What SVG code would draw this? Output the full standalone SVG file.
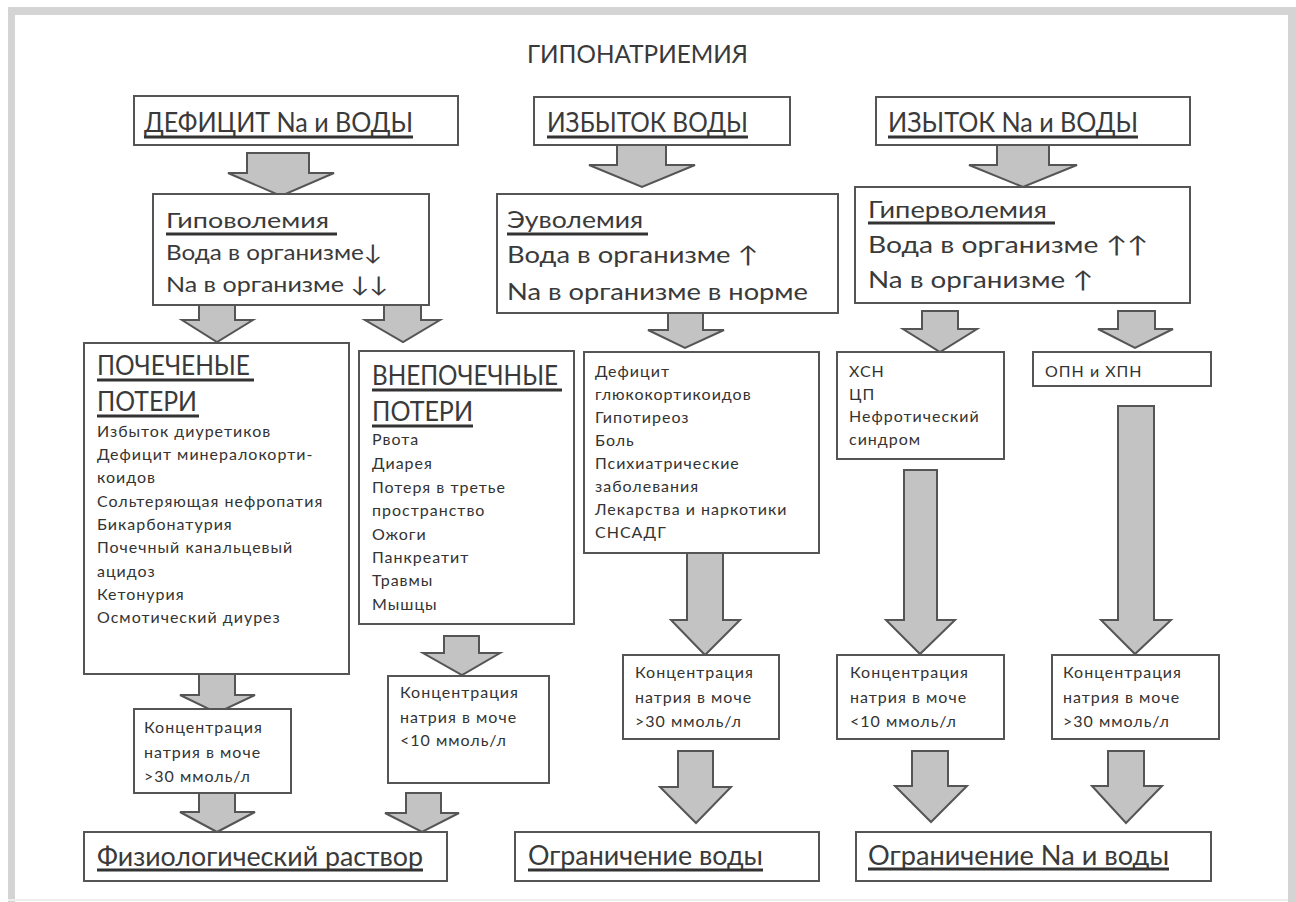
<svg xmlns="http://www.w3.org/2000/svg" width="1296" height="902" viewBox="0 0 1296 902">
<style>
.box{fill:#fff;stroke:#555;stroke-width:2}
.arr{fill:#c3c3c3;stroke:#555;stroke-width:2;stroke-linejoin:miter}
.t{font-family:Lato,"Open Sans",sans-serif;fill:#3a3a3a}
.h1{font-size:26px}
.h2{font-size:21.5px}
.h3{font-size:23px}
.s{font-size:16px;letter-spacing:1px;fill:#333}
.ul{stroke:#333;stroke-width:3}
.frame{fill:#d4d4d4}
</style>
<rect width="1296" height="902" fill="#fff"/>
<rect class="frame" x="8" y="7" width="1288" height="8"/>
<rect class="frame" x="8" y="7" width="7" height="895"/>
<rect class="frame" x="1288" y="7" width="8" height="895"/>
<rect x="8" y="899" width="1280" height="2" fill="#eeeeee"/>

<text class="t" x="527" y="63" font-size="25" textLength="221" lengthAdjust="spacingAndGlyphs">ГИПОНАТРИЕМИЯ</text>

<g id="connectors">
<path class="arr" d="M247,153H309V173H334L281,196L228,173H247Z"/>
<path class="arr" d="M617,145H666V165H695L642,187L589,165H617Z"/>
<path class="arr" d="M997,145H1049V165H1077L1023,187L969,165H997Z"/>
<path class="arr" d="M199,303H235V320H253L217,342L182,320H199Z"/>
<path class="arr" d="M384,303H421V320H440L403,342L365,320H384Z"/>
<path class="arr" d="M668,313H703V330H724L685,348L648,330H668Z"/>
<path class="arr" d="M922,311H958V329H977L940,352L903,329H922Z"/>
<path class="arr" d="M1118,311H1155V329H1173L1135,348L1098,329H1118Z"/>
<path class="arr" d="M199,674H235V695H255L217,713L180,695H199Z"/>
<path class="arr" d="M444,636H479V653H500L462,675L423,653H444Z"/>
<path class="arr" d="M687,553H723V620H740L705,655L671,620H687Z"/>
<path class="arr" d="M904,470H937V620H955L920,654L886,620H904Z"/>
<path class="arr" d="M1118,406H1154V620H1171L1135,654L1101,620H1118Z"/>
<path class="arr" d="M199,793H235V812H255L217,832L180,812H199Z"/>
<path class="arr" d="M406,793H441V813H459L422,832L385,813H406Z"/>
<path class="arr" d="M678,751H713V787H731L696,823L660,787H678Z"/>
<path class="arr" d="M912,751H948V786H967L931,822L895,786H912Z"/>
<path class="arr" d="M1108,751H1144V786H1162L1126,823L1092,786H1108Z"/>
</g>

<g id="deficit">
<rect class="box" x="134" y="96" width="324" height="49"/>
<text class="t h1" x="144" y="132" textLength="269" lengthAdjust="spacingAndGlyphs">ДЕФИЦИТ Na и ВОДЫ</text>
<line class="ul" x1="144" y1="137" x2="413" y2="137"/>
</g>
<g id="excess-water">
<rect class="box" x="534" y="97" width="256" height="48"/>
<text class="t h1" x="547" y="132" textLength="201" lengthAdjust="spacingAndGlyphs">ИЗБЫТОК ВОДЫ</text>
<line class="ul" x1="547" y1="137" x2="748" y2="137"/>
</g>
<g id="excess-na">
<rect class="box" x="876" y="97" width="314" height="48"/>
<text class="t h1" x="888" y="132" textLength="250" lengthAdjust="spacingAndGlyphs">ИЗЫТОК Na и ВОДЫ</text>
<line class="ul" x1="888" y1="137" x2="1138" y2="137"/>
</g>

<g id="hypovolemia">
<rect class="box" x="153" y="194" width="276" height="111"/>
<text class="t h2" x="166" y="228" textLength="163" lengthAdjust="spacingAndGlyphs">Гиповолемия</text>
<line class="ul" x1="166" y1="234" x2="337" y2="234"/>
<text class="t h2" x="166" y="260" textLength="216" lengthAdjust="spacingAndGlyphs">Вода в организме↓</text>
<text class="t h2" x="166" y="292" textLength="222" lengthAdjust="spacingAndGlyphs">Na в организме ↓↓</text>
</g>
<g id="euvolemia">
<rect class="box" x="497" y="194" width="341" height="119"/>
<text class="t h3" x="507" y="228" textLength="136" lengthAdjust="spacingAndGlyphs">Эуволемия</text>
<line class="ul" x1="507" y1="234" x2="648" y2="234"/>
<text class="t h3" x="507" y="263" textLength="251" lengthAdjust="spacingAndGlyphs">Вода в организме ↑</text>
<text class="t h3" x="507" y="300" textLength="301" lengthAdjust="spacingAndGlyphs">Na в организме в норме</text>
</g>
<g id="hypervolemia">
<rect class="box" x="855" y="187" width="335" height="116"/>
<text class="t h3" x="868" y="218" textLength="179" lengthAdjust="spacingAndGlyphs">Гиперволемия</text>
<line class="ul" x1="868" y1="223" x2="1055" y2="223"/>
<text class="t h3" x="868" y="253" textLength="280" lengthAdjust="spacingAndGlyphs">Вода в организме ↑↑</text>
<text class="t h3" x="868" y="288" textLength="225" lengthAdjust="spacingAndGlyphs">Na в организме ↑</text>
</g>

<g id="renal">
<rect class="box" x="84" y="343" width="265" height="331"/>
<text class="t h1" x="97" y="375" textLength="153" lengthAdjust="spacingAndGlyphs">ПОЧЕЧЕНЫЕ</text>
<line class="ul" x1="97" y1="380" x2="254" y2="380"/>
<text class="t h1" x="97" y="411" textLength="100" lengthAdjust="spacingAndGlyphs">ПОТЕРИ</text>
<line class="ul" x1="97" y1="416" x2="199" y2="416"/>
<text class="t s" x="97" y="437">Избыток диуретиков</text>
<text class="t s" x="97" y="460">Дефицит минералокорти-</text>
<text class="t s" x="97" y="483">коидов</text>
<text class="t s" x="97" y="507">Сольтеряющая нефропатия</text>
<text class="t s" x="97" y="530">Бикарбонатурия</text>
<text class="t s" x="97" y="553">Почечный канальцевый</text>
<text class="t s" x="97" y="577">ацидоз</text>
<text class="t s" x="97" y="600">Кетонурия</text>
<text class="t s" x="97" y="623">Осмотический диурез</text>
</g>
<g id="extrarenal">
<rect class="box" x="359" y="351" width="215" height="273"/>
<text class="t h1" x="372" y="385" textLength="186" lengthAdjust="spacingAndGlyphs">ВНЕПОЧЕЧНЫЕ</text>
<line class="ul" x1="372" y1="390" x2="562" y2="390"/>
<text class="t h1" x="372" y="421" textLength="101" lengthAdjust="spacingAndGlyphs">ПОТЕРИ</text>
<line class="ul" x1="372" y1="426" x2="473" y2="426"/>
<text class="t s" x="372" y="445">Рвота</text>
<text class="t s" x="372" y="469">Диарея</text>
<text class="t s" x="372" y="493">Потеря в третье</text>
<text class="t s" x="372" y="516">пространство</text>
<text class="t s" x="372" y="540">Ожоги</text>
<text class="t s" x="372" y="563">Панкреатит</text>
<text class="t s" x="372" y="586">Травмы</text>
<text class="t s" x="372" y="610">Мышцы</text>
</g>
<g id="euvolemia-causes">
<rect class="box" x="584" y="352" width="235" height="201"/>
<text class="t s" x="595" y="377">Дефицит</text>
<text class="t s" x="595" y="400">глюкокортикоидов</text>
<text class="t s" x="595" y="423">Гипотиреоз</text>
<text class="t s" x="595" y="446">Боль</text>
<text class="t s" x="595" y="469">Психиатрические</text>
<text class="t s" x="595" y="492">заболевания</text>
<text class="t s" x="595" y="515">Лекарства и наркотики</text>
<text class="t s" x="595" y="538">СНСАДГ</text>
</g>
<g id="hf">
<rect class="box" x="837" y="352" width="167" height="107"/>
<text class="t s" x="849" y="377">ХСН</text>
<text class="t s" x="849" y="400">ЦП</text>
<text class="t s" x="849" y="422">Нефротический</text>
<text class="t s" x="849" y="445">синдром</text>
</g>
<g id="renal-failure">
<rect class="box" x="1033" y="352" width="178" height="34"/>
<text class="t s" x="1045" y="377">ОПН и ХПН</text>
</g>

<g id="conc1">
<rect class="box" x="134" y="709" width="157" height="84"/>
<text class="t s" x="144" y="733">Концентрация</text>
<text class="t s" x="144" y="758">натрия в моче</text>
<text class="t s" x="144" y="782">&gt;30 ммоль/л</text>
</g>
<g id="conc2">
<rect class="box" x="388" y="676" width="161" height="107"/>
<text class="t s" x="400" y="698">Концентрация</text>
<text class="t s" x="400" y="723">натрия в моче</text>
<text class="t s" x="400" y="746">&lt;10 ммоль/л</text>
</g>
<g id="conc3">
<rect class="box" x="623" y="655" width="156" height="84"/>
<text class="t s" x="635" y="678">Концентрация</text>
<text class="t s" x="635" y="703">натрия в моче</text>
<text class="t s" x="635" y="727">&gt;30 ммоль/л</text>
</g>
<g id="conc4">
<rect class="box" x="837" y="655" width="167" height="84"/>
<text class="t s" x="850" y="678">Концентрация</text>
<text class="t s" x="850" y="703">натрия в моче</text>
<text class="t s" x="850" y="727">&lt;10 ммоль/л</text>
</g>
<g id="conc5">
<rect class="box" x="1052" y="655" width="167" height="84"/>
<text class="t s" x="1063" y="678">Концентрация</text>
<text class="t s" x="1063" y="703">натрия в моче</text>
<text class="t s" x="1063" y="727">&gt;30 ммоль/л</text>
</g>

<g id="saline">
<rect class="box" x="84" y="832" width="363" height="49"/>
<text class="t h1" x="97" y="866" font-size="27" textLength="326" lengthAdjust="spacingAndGlyphs">Физиологический раствор</text>
<line class="ul" x1="97" y1="870" x2="423" y2="870"/>
</g>
<g id="water-restriction">
<rect class="box" x="515" y="832" width="304" height="49"/>
<text class="t h1" x="528" y="865" font-size="27" textLength="235" lengthAdjust="spacingAndGlyphs">Ограничение воды</text>
<line class="ul" x1="528" y1="870" x2="763" y2="870"/>
</g>
<g id="na-water-restriction">
<rect class="box" x="856" y="832" width="355" height="49"/>
<text class="t h1" x="868" y="865" font-size="27" textLength="301" lengthAdjust="spacingAndGlyphs">Ограничение Na и воды</text>
<line class="ul" x1="868" y1="869" x2="1169" y2="869"/>
</g>
</svg>
